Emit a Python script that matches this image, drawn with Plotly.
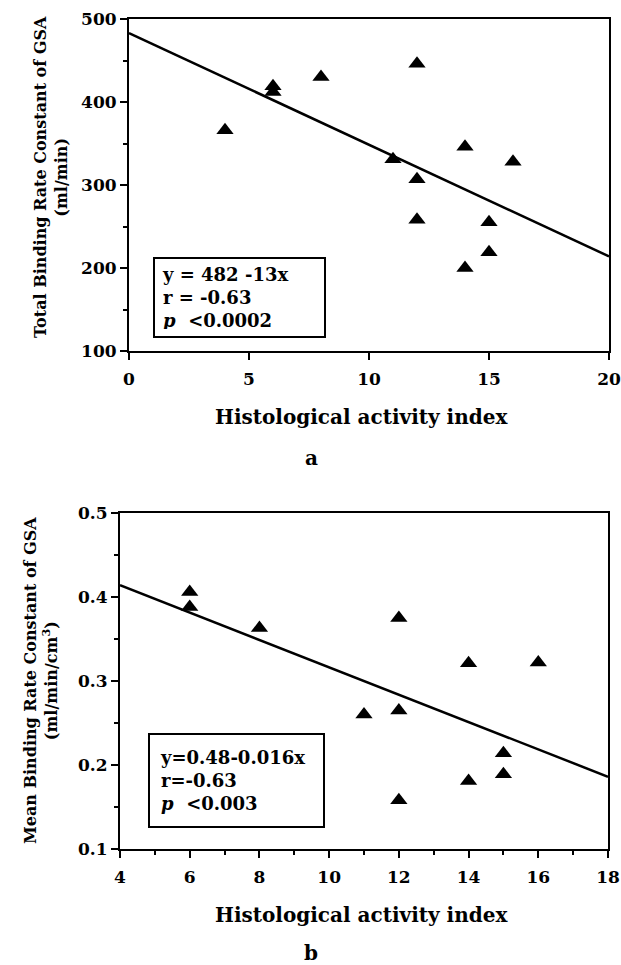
import plotly.graph_objects as go

W, H = 621, 965

# ---- data: panel a ----
a_x = [4, 6, 6, 8, 11, 12, 12, 12, 14, 14, 15, 15, 16]
a_y = [366, 419, 412, 430, 331, 446, 307, 258, 346, 200, 255, 219, 328]
a_line_x = [0, 20]
a_line_y = [483, 214]
a_xticks = [0, 5, 10, 15, 20]
a_yticks = [100, 200, 300, 400, 500]

# ---- data: panel b ----
b_x = [6, 6, 8, 11, 12, 12, 12, 14, 14, 15, 15, 16]
b_y = [0.406, 0.388, 0.363, 0.260, 0.375, 0.265, 0.158, 0.321, 0.181, 0.214, 0.189, 0.322]
b_line_x = [4, 18]
b_line_y = [0.414, 0.186]
b_xticks = [4, 6, 8, 10, 12, 14, 16, 18]
b_yticks = [0.1, 0.2, 0.3, 0.4, 0.5]

FAM = "DejaVu Serif"
tickfont = dict(family=FAM, size=17, color="black", weight="bold")

def px_x(p):
    return p / W

def px_y(p):
    return 1 - p / H

fig = go.Figure()

mk = dict(symbol="triangle-up", size=15, color="black")
fig.add_trace(go.Scatter(x=a_line_x, y=a_line_y, mode="lines",
                         line=dict(color="black", width=2.5), xaxis="x", yaxis="y"))
fig.add_trace(go.Scatter(x=a_x, y=a_y, mode="markers", marker=mk, xaxis="x", yaxis="y"))
fig.add_trace(go.Scatter(x=b_line_x, y=b_line_y, mode="lines",
                         line=dict(color="black", width=2.5), xaxis="x2", yaxis="y2"))
fig.add_trace(go.Scatter(x=b_x, y=b_y, mode="markers", marker=mk, xaxis="x2", yaxis="y2"))

axcommon = dict(showline=True, linecolor="black", linewidth=2, mirror=True,
                showgrid=False, zeroline=False, ticks="outside", ticklen=7,
                tickwidth=2, tickcolor="black", tickfont=tickfont, automargin=False)

fig.update_layout(
    width=W, height=H,
    margin=dict(l=0, r=0, t=0, b=0),
    paper_bgcolor="white", plot_bgcolor="white",
    showlegend=False,
    xaxis=dict(domain=[px_x(129), px_x(609)], range=[0, 20], tickvals=a_xticks,
               anchor="y", ticklabelstandoff=5, **axcommon),
    yaxis=dict(domain=[px_y(351), px_y(19)], range=[100, 500], tickvals=a_yticks,
               anchor="x", ticklabelstandoff=0,
               minor=dict(dtick=50, ticks="outside", ticklen=4, tickwidth=2, tickcolor="black"),
               **axcommon),
    xaxis2=dict(domain=[px_x(120), px_x(608)], range=[4, 18], tickvals=b_xticks,
                anchor="y2", ticklabelstandoff=5,
                minor=dict(dtick=1, ticks="outside", ticklen=4, tickwidth=2, tickcolor="black"),
                **axcommon),
    yaxis2=dict(domain=[px_y(849), px_y(513)], range=[0.1, 0.5], tickvals=b_yticks,
                tickformat=".1f", anchor="x2", ticklabelstandoff=0,
                minor=dict(dtick=0.05, ticks="outside", ticklen=4, tickwidth=2, tickcolor="black"),
                **axcommon),
)

tfont = dict(family=FAM, size=20, color="black", weight="bold")
yfont = dict(family=FAM, size=16, color="black", weight="bold")
boxfont = dict(family=FAM, size=18, color="black", weight="bold")

ann = []
# x axis titles
ann.append(dict(text="Histological activity index", x=px_x(361), y=px_y(417),
                xanchor="center", yanchor="middle", font=tfont))
ann.append(dict(text="Histological activity index", x=px_x(361), y=px_y(915),
                xanchor="center", yanchor="middle", font=tfont))
# panel letters
ann.append(dict(text="a", x=px_x(311), y=px_y(458), xanchor="center", yanchor="middle", font=tfont))
ann.append(dict(text="b", x=px_x(311), y=px_y(953), xanchor="center", yanchor="middle", font=tfont))
# y axis titles
ann.append(dict(text="Total Binding Rate Constant of GSA<br>(ml/min)", x=px_x(51), y=px_y(177),
                xanchor="center", yanchor="middle", textangle=-90, font=yfont))
ann.append(dict(text="Mean Binding Rate Constant of GSA<br>(ml/min/cm<sup>3</sup>)", x=px_x(41), y=px_y(681),
                xanchor="center", yanchor="middle", textangle=-90, font=yfont))
# stat boxes
ann.append(dict(text="y = 482 -13x<br>r = -0.63<br><i>p</i>  &lt;0.0002",
                x=px_x(153), y=px_y(257), xanchor="left", yanchor="top", align="left",
                valign="middle", width=155, height=63, borderpad=7, borderwidth=2,
                bordercolor="black", bgcolor="white", font=boxfont))
ann.append(dict(text="y=0.48-0.016x<br>r=-0.63<br><i>p</i>  &lt;0.003",
                x=px_x(148), y=px_y(733), xanchor="left", yanchor="top", align="left",
                valign="middle", width=153, height=71, borderpad=10, borderwidth=2,
                bordercolor="black", bgcolor="white", font=boxfont))
for a in ann:
    a.update(xref="paper", yref="paper", showarrow=False)
fig.update_layout(annotations=ann)

fig.write_html("out.html", config={"displayModeBar": False},
               post_script="document.body.style.margin='0px';")
